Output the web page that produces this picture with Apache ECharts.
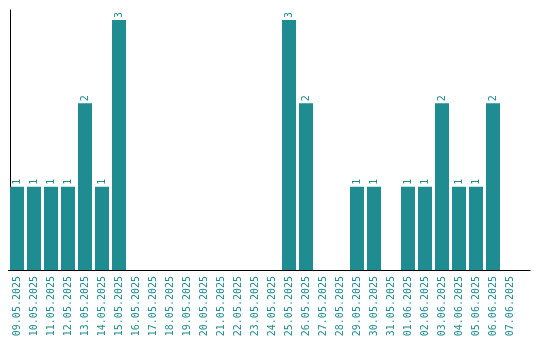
<!DOCTYPE html>
<html><head><meta charset="utf-8">
<script src="https://cdn.jsdelivr.net/npm/echarts@6/dist/echarts.min.js"></script>
<style>html,body{margin:0;padding:0;background:#fff}#c{width:540px;height:340px}</style>
</head><body><div id="c"></div>
<script>
const categories = ['09.05.2025','10.05.2025','11.05.2025','12.05.2025','13.05.2025','14.05.2025','15.05.2025','16.05.2025','17.05.2025','18.05.2025','19.05.2025','20.05.2025','21.05.2025','22.05.2025','23.05.2025','24.05.2025','25.05.2025','26.05.2025','27.05.2025','28.05.2025','29.05.2025','30.05.2025','31.05.2025','01.06.2025','02.06.2025','03.06.2025','04.06.2025','05.06.2025','06.06.2025','07.06.2025'];
const values = [1,1,1,1,2,1,3,0,0,0,0,0,0,0,0,0,3,2,0,0,1,1,0,1,1,2,1,1,2,0];
const teal = '#1f8c91';
const chart = echarts.init(document.getElementById('c'), null, {renderer:'canvas'});
chart.setOption({
  animation:false,
  grid:{left:8.5, top:10, width:510, height:260},
  xAxis:{type:'category', data:categories, boundaryGap:true,
    axisLine:{lineStyle:{color:'#000', width:1}}, axisTick:{show:false},
    axisLabel:{rotate:90, interval:0, color:teal, fontFamily:'DejaVu Sans Mono', fontSize:10, margin:6}},
  yAxis:{type:'value', min:0, max:3.12, offset:-1.5,
    axisLine:{show:true, lineStyle:{color:'#000', width:1}}, axisTick:{show:false},
    axisLabel:{show:false}, splitLine:{show:false}},
  series:[{type:'bar', data:values, barWidth:14, itemStyle:{color:teal},
    label:{show:true, position:'top', rotate:90, align:'left', verticalAlign:'middle', distance:2,
      color:teal, fontFamily:'DejaVu Sans Mono', fontSize:10,
      formatter:p => p.value ? String(p.value) : ''}}]
});
const p0 = chart.convertToPixel({gridIndex:0}, [categories.length-1, 0]);
const yl = Math.round(p0[1]) + 0.5;
chart.setOption({graphic:[{type:'line', shape:{x1:518, y1:yl, x2:530.5, y2:yl}, style:{stroke:'#000', lineWidth:1}}]});
</script></body></html>
